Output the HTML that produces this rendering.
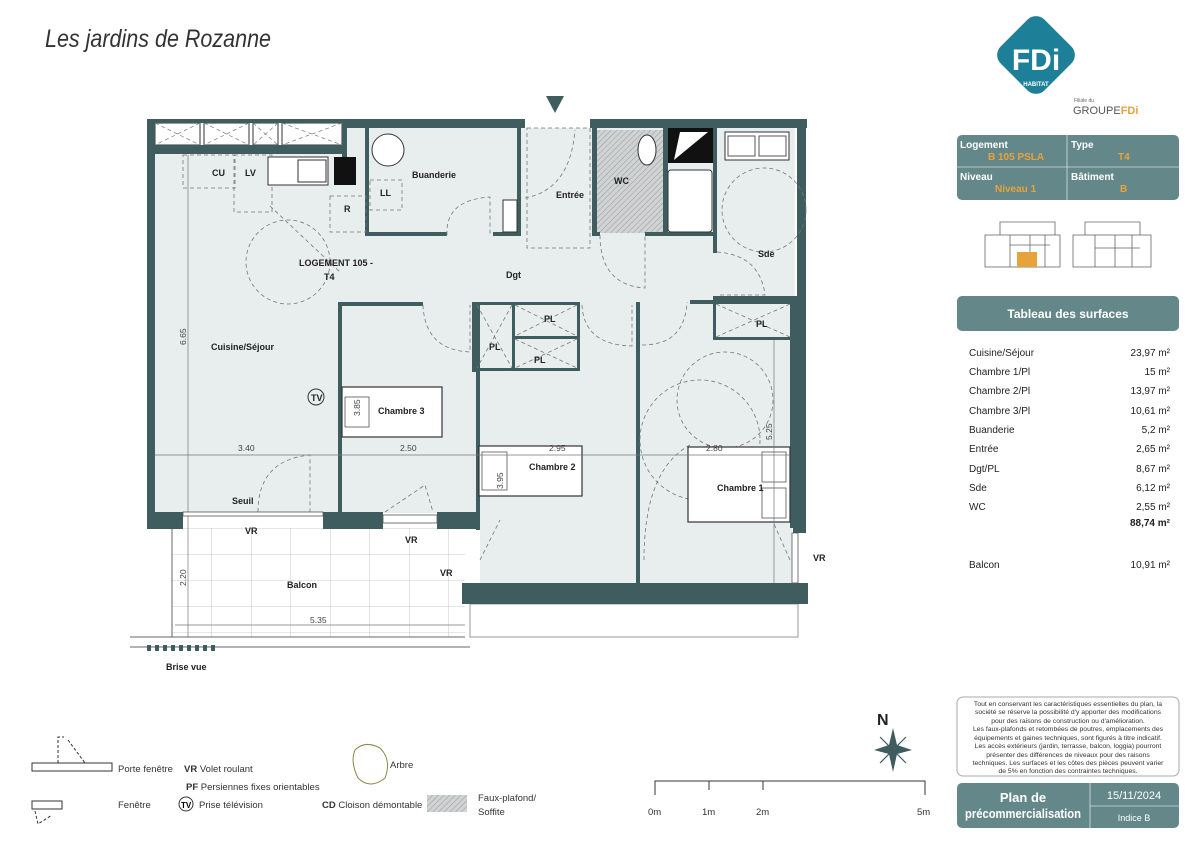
<!DOCTYPE html>
<html><head><meta charset="utf-8"><style>
html,body{margin:0;padding:0;background:#fff;}
svg{display:block;}
text{font-family:"Liberation Sans",sans-serif;}
.b{font-weight:bold;font-size:9px;fill:#222;}
.d{font-size:8.5px;fill:#444;}
.w{fill:#3f5d5e;}
</style></head><body>
<svg width="1199" height="848" viewBox="0 0 1199 848" xmlns="http://www.w3.org/2000/svg">
<defs>
<pattern id="h" width="4" height="4" patternUnits="userSpaceOnUse" patternTransform="rotate(45)"><rect width="4" height="4" fill="#cfd3d3"/><line x1="0" y1="0" x2="0" y2="4" stroke="#999" stroke-width="1"/></pattern>
<pattern id="tile" x="172" y="528" width="39.5" height="26" patternUnits="userSpaceOnUse"><rect width="39.5" height="26" fill="#fff"/><path d="M0 0H39.5M0 0V26" stroke="#bbb" stroke-width="0.8" fill="none"/></pattern>
</defs>
<text x="45" y="47" font-style="italic" font-size="25" fill="#333" textLength="226" lengthAdjust="spacingAndGlyphs">Les jardins de Rozanne</text>

<!-- floors -->
<rect x="155" y="153" width="640" height="360" fill="#e8eded"/>
<rect x="345" y="128" width="450" height="30" fill="#e8eded"/>
<rect x="480" y="300" width="312" height="285" fill="#e8eded"/>
<rect x="597" y="130" width="66" height="103" fill="url(#h)"/>
<!-- balcony -->
<rect x="172" y="528" width="293" height="109" fill="url(#tile)"/>
<rect x="470" y="604" width="328" height="33" fill="#fff" stroke="#999" stroke-width="1"/>
<line x1="172" y1="528" x2="172" y2="637" stroke="#666"/>
<line x1="130" y1="637" x2="465" y2="637" stroke="#666"/>
<line x1="130" y1="647" x2="470" y2="647" stroke="#666"/>
<g fill="#3f5d5e"><rect x="147" y="645" width="4" height="6"/><rect x="155" y="645" width="4" height="6"/><rect x="163" y="645" width="4" height="6"/><rect x="171" y="645" width="4" height="6"/><rect x="179" y="645" width="4" height="6"/><rect x="187" y="645" width="4" height="6"/><rect x="195" y="645" width="4" height="6"/><rect x="203" y="645" width="4" height="6"/><rect x="211" y="645" width="4" height="6"/></g>

<!-- cabinets top -->
<g fill="#fff" stroke="#333" stroke-width="1">
<rect x="155" y="123" width="45" height="22"/><rect x="204" y="123" width="45" height="22"/><rect x="253" y="123" width="25" height="22"/><rect x="282" y="123" width="60" height="22"/></g>
<g stroke="#888" stroke-dasharray="4 3" stroke-width="0.8"><path d="M155 123L200 145M200 123L155 145M204 123L249 145M249 123L204 145M253 123L278 145M278 123L253 145M282 123L342 145M342 123L282 145"/></g>

<!-- walls -->
<g class="w">
<rect x="147" y="119" width="200" height="4"/>
<rect x="147" y="145" width="200" height="9"/>
<rect x="147" y="119" width="8" height="410"/>
<rect x="342" y="119" width="5" height="40"/>
<rect x="342" y="119" width="183" height="9"/>
<rect x="590" y="119" width="217" height="9"/>
<rect x="365" y="128" width="4" height="108"/>
<rect x="365" y="232" width="82" height="4"/>
<rect x="493" y="232" width="28" height="4"/>
<rect x="517" y="128" width="4" height="108"/>
<rect x="592" y="128" width="5" height="108"/>
<rect x="592" y="232" width="8" height="4"/>
<rect x="645" y="232" width="72" height="4"/>
<rect x="663" y="128" width="5" height="106"/>
<rect x="713" y="128" width="4" height="125"/>
<rect x="713" y="296" width="84" height="4"/>
<rect x="797" y="119" width="9" height="410"/>
<rect x="790" y="300" width="16" height="228"/>
<rect x="147" y="512" width="36" height="17"/>
<rect x="323" y="512" width="60" height="17"/>
<rect x="437" y="512" width="43" height="17"/>
<rect x="338" y="302" width="4" height="212"/>
<rect x="338" y="302" width="85" height="4"/>
<rect x="476" y="302" width="4" height="228"/>
<rect x="472" y="302" width="5" height="70"/>
<rect x="472" y="302" width="108" height="3"/>
<rect x="512" y="302" width="3" height="68"/>
<rect x="472" y="368" width="108" height="3"/>
<rect x="512" y="336" width="68" height="3"/>
<rect x="577" y="302" width="3" height="68"/>
<rect x="636" y="302" width="4" height="282"/>
<rect x="690" y="300" width="100" height="4"/>
<rect x="713" y="300" width="3" height="40"/>
<rect x="713" y="337" width="77" height="3"/>
<rect x="462" y="583" width="346" height="21"/>
<rect x="793" y="528" width="13" height="5"/>
</g>
<rect x="668" y="128" width="45" height="35" fill="#111"/>
<path d="M674 160L680 132L708 132" fill="#fff"/>
<rect x="334" y="157" width="22" height="28" fill="#111"/>
<!-- PL crosses -->
<g stroke="#777" stroke-dasharray="4 3" stroke-width="0.8" fill="none">
<path d="M515 305L577 336M577 305L515 336M515 339L577 368M577 339L515 368M477 305L512 368M512 305L477 368M716 304L790 337M790 304L716 337"/>
<circle cx="288" cy="262" r="42"/><path d="M270 206L340 272"/>
<circle cx="725" cy="400" r="48"/><circle cx="700" cy="440" r="60"/>
<circle cx="764" cy="210" r="42"/>
<rect x="183" y="155" width="52" height="33"/><rect x="234" y="155" width="38" height="57"/>
<rect x="330" y="196" width="36" height="36"/><rect x="370" y="180" width="32" height="30"/>
<rect x="527" y="128" width="63" height="120"/>
<path d="M525 198Q570 190 575 130M600 235Q600 285 645 288L645 235M717 252Q760 255 765 295L717 295M447 235Q445 200 490 197L490 235M423 305Q425 350 470 352L470 305M582 305Q584 345 632 346L632 305M642 345Q685 345 687 302M258 512Q258 460 310 455L310 512M385 512L425 485L433 512M644 560Q644 470 690 445"/>
<path d="M480 560L500 520M790 560L770 515"/>
</g>
<!-- fixtures -->
<circle cx="388" cy="150" r="16" fill="#fff" stroke="#333"/>
<rect x="268" y="157" width="60" height="28" fill="#fff" stroke="#333"/>
<rect x="298" y="160" width="28" height="22" fill="#fff" stroke="#333"/>
<rect x="725" y="132" width="64" height="28" fill="#fff" stroke="#333"/>
<rect x="728" y="136" width="27" height="20" fill="#fff" stroke="#555"/><rect x="759" y="136" width="27" height="20" fill="#fff" stroke="#555"/>
<rect x="668" y="170" width="44" height="62" rx="3" fill="#fff" stroke="#333"/>
<ellipse cx="647" cy="150" rx="9" ry="15" fill="#fff" stroke="#333"/>
<rect x="503" y="200" width="14" height="32" fill="#fff" stroke="#333"/>
<!-- beds -->
<g fill="#fff" stroke="#333" stroke-width="1.2"><rect x="342" y="387" width="100" height="50"/><rect x="479" y="446" width="103" height="50"/><rect x="688" y="447" width="102" height="75"/></g>
<g fill="none" stroke="#555" stroke-width="0.8"><rect x="345" y="397" width="24" height="30"/><rect x="482" y="452" width="25" height="38"/><rect x="762" y="452" width="24" height="30"/><rect x="762" y="488" width="24" height="30"/></g>
<!-- dimension lines -->
<g stroke="#777" stroke-width="0.7"><line x1="155" y1="455" x2="790" y2="455"/><line x1="188" y1="155" x2="188" y2="637"/><line x1="175" y1="625" x2="465" y2="625"/><line x1="774" y1="340" x2="774" y2="583"/></g>
<!-- windows -->
<g fill="#fff" stroke="#555" stroke-width="0.8"><rect x="183" y="512" width="140" height="4"/><rect x="383" y="515" width="54" height="8"/><rect x="792" y="533" width="6" height="50"/></g>
<path d="M546 96L564 96L555 113Z" fill="#3f5d5e"/>

<g class="b">
<text x="212" y="176">CU</text><text x="245" y="176">LV</text><text x="344" y="212">R</text><text x="380" y="196">LL</text>
<text x="412" y="178">Buanderie</text><text x="556" y="198">Entrée</text><text x="614" y="184">WC</text><text x="758" y="257">Sde</text>
<text x="299" y="266">LOGEMENT 105 -</text><text x="324" y="280">T4</text><text x="506" y="278">Dgt</text>
<text x="211" y="350">Cuisine/Séjour</text><text x="378" y="414">Chambre 3</text><text x="529" y="470">Chambre 2</text><text x="717" y="491">Chambre 1</text>
<text x="232" y="504">Seuil</text><text x="245" y="534">VR</text><text x="405" y="543">VR</text><text x="440" y="576">VR</text><text x="287" y="588">Balcon</text><text x="813" y="561">VR</text>
<text x="544" y="322">PL</text><text x="534" y="363">PL</text><text x="489" y="350">PL</text><text x="756" y="327">PL</text>
<text x="166" y="670">Brise vue</text>
</g>
<circle cx="316" cy="397" r="8" fill="none" stroke="#333"/><text x="311" y="401" class="b" font-size="8">TV</text>
<g class="d"><text x="238" y="451">3.40</text><text x="400" y="451">2.50</text><text x="549" y="451">2.95</text><text x="706" y="451">2.80</text><text x="310" y="623">5.35</text>
<text transform="translate(186 345) rotate(-90)">6.65</text><text transform="translate(186 586) rotate(-90)">2.20</text><text transform="translate(772 440) rotate(-90)">5.25</text><text transform="translate(360 416) rotate(-90)">3.85</text><text transform="translate(503 489) rotate(-90)">3.95</text></g>

<!-- logo -->
<rect x="1005" y="24" width="62" height="62" rx="12" transform="rotate(45 1036 55)" fill="#1e7f99"/>
<text x="1036" y="70" text-anchor="middle" font-weight="bold" font-size="30" fill="#fff">FDi</text>
<text x="1036" y="86" text-anchor="middle" font-weight="bold" font-size="6" fill="#fff">HABITAT</text>
<text x="1074" y="102" font-size="5" fill="#666">Filiale du</text>
<text x="1073" y="114" font-size="11" fill="#555">GROUPE<tspan fill="#e8a23c" font-weight="bold">FDi</tspan></text>

<!-- info box -->
<rect x="957" y="135" width="222" height="65" rx="5" fill="#64888a"/>
<line x1="1067" y1="135" x2="1067" y2="200" stroke="#fff" stroke-width="0.6"/><line x1="957" y1="167" x2="1179" y2="167" stroke="#fff" stroke-width="0.6"/>
<g font-weight="bold" font-size="10"><text x="960" y="148" fill="#fff">Logement</text><text x="988" y="160" fill="#e8a23c">B 105 PSLA</text><text x="1071" y="148" fill="#fff">Type</text><text x="1118" y="160" fill="#e8a23c">T4</text>
<text x="960" y="180" fill="#fff">Niveau</text><text x="995" y="192" fill="#e8a23c">Niveau 1</text><text x="1071" y="180" fill="#fff">Bâtiment</text><text x="1120" y="192" fill="#e8a23c">B</text></g>
<!-- mini plans -->
<g fill="none" stroke="#666" stroke-width="0.8"><rect x="985" y="235" width="75" height="32"/><rect x="1073" y="235" width="78" height="32"/><path d="M1000 235V222H1055V235M1085 235V222H1140V235M1010 245H1050M1095 248H1140M1010 235V267M1030 235V267M1045 235V267M1095 235V267M1115 235V267M1132 235V267"/></g>
<rect x="1017" y="252" width="20" height="15" fill="#e8a23c"/>
<rect x="957" y="296" width="222" height="35" rx="5" fill="#64888a"/>
<text x="1068" y="318" text-anchor="middle" font-weight="bold" font-size="12" fill="#fff">Tableau des surfaces</text>
<g font-size="10" fill="#222">
<text x="969" y="356">Cuisine/Séjour</text><text x="1170" y="356" text-anchor="end">23,97 m²</text>
<text x="969" y="375">Chambre 1/Pl</text><text x="1170" y="375" text-anchor="end">15 m²</text>
<text x="969" y="394">Chambre 2/Pl</text><text x="1170" y="394" text-anchor="end">13,97 m²</text>
<text x="969" y="414">Chambre 3/Pl</text><text x="1170" y="414" text-anchor="end">10,61 m²</text>
<text x="969" y="433">Buanderie</text><text x="1170" y="433" text-anchor="end">5,2 m²</text>
<text x="969" y="452">Entrée</text><text x="1170" y="452" text-anchor="end">2,65 m²</text>
<text x="969" y="472">Dgt/PL</text><text x="1170" y="472" text-anchor="end">8,67 m²</text>
<text x="969" y="491">Sde</text><text x="1170" y="491" text-anchor="end">6,12 m²</text>
<text x="969" y="510">WC</text><text x="1170" y="510" text-anchor="end">2,55 m²</text>
<text x="1170" y="526" text-anchor="end" font-weight="bold">88,74 m²</text>
<text x="969" y="568">Balcon</text><text x="1170" y="568" text-anchor="end">10,91 m²</text></g>

<rect x="957" y="697" width="222" height="79" rx="6" fill="#fff" stroke="#aaa"/>
<g font-size="6.8" fill="#333" text-anchor="middle"><text x="1068" y="706">Tout en conservant les caractéristiques essentielles du plan, la</text><text x="1068" y="714">société se réserve la possibilité d'y apporter des modifications</text><text x="1068" y="723">pour des raisons de construction ou d'amélioration.</text><text x="1068" y="731">Les faux-plafonds et retombées de poutres, emplacements des</text><text x="1068" y="740">équipements et gaines techniques, sont figurés à titre indicatif.</text><text x="1068" y="748">Les accès extérieurs (jardin, terrasse, balcon, loggia) pourront</text><text x="1068" y="757">présenter des différences de niveaux pour des raisons</text><text x="1068" y="765">techniques. Les surfaces et les côtes des pièces peuvent varier</text><text x="1068" y="773">de 5% en fonction des contraintes techniques.</text></g>
<rect x="957" y="783" width="222" height="45" rx="5" fill="#64888a"/>
<line x1="1090" y1="783" x2="1090" y2="828" stroke="#fff" stroke-width="0.6"/><line x1="1090" y1="806" x2="1179" y2="806" stroke="#fff" stroke-width="0.6"/>
<g fill="#fff" text-anchor="middle"><text x="1023" y="802" font-weight="bold" font-size="13">Plan de</text><text x="1023" y="818" font-weight="bold" font-size="13" textLength="116" lengthAdjust="spacingAndGlyphs">précommercialisation</text><text x="1134" y="799" font-size="11">15/11/2024</text><text x="1134" y="821" font-size="9">Indice B</text></g>

<!-- legend -->
<rect x="32" y="763" width="80" height="8" fill="#fff" stroke="#333"/>
<path d="M58 763V737H64M68 740L85 763" fill="none" stroke="#333" stroke-dasharray="3 2"/>
<rect x="32" y="801" width="30" height="8" fill="#fff" stroke="#333"/>
<path d="M35 811L38 824L52 815" fill="none" stroke="#333" stroke-dasharray="3 2"/>
<g font-size="9.5" fill="#333"><text x="118" y="772">Porte fenêtre</text><text x="118" y="808">Fenêtre</text>
<text x="184" y="772"><tspan font-weight="bold">VR</tspan> Volet roulant</text><text x="186" y="790"><tspan font-weight="bold">PF</tspan> Persiennes fixes orientables</text><text x="199" y="808">Prise télévision</text>
<text x="390" y="768">Arbre</text><text x="322" y="808"><tspan font-weight="bold">CD</tspan> Cloison démontable</text><text x="478" y="801">Faux-plafond/</text><text x="478" y="815">Soffite</text>
<text x="648" y="815">0m</text><text x="702" y="815">1m</text><text x="756" y="815">2m</text><text x="917" y="815">5m</text></g>
<circle cx="186" cy="804" r="7" fill="none" stroke="#333"/><text x="181" y="808" font-size="8" font-weight="bold">TV</text>
<path d="M355 750Q365 740 380 748Q392 760 385 778Q370 790 358 778Q350 762 355 750Z" fill="none" stroke="#8a8a4a"/>
<rect x="427" y="795" width="40" height="17" fill="url(#h)"/>
<path d="M655 795V781H925V795M709 781V790M763 781V790" fill="none" stroke="#333"/>
<!-- north -->
<text x="877" y="725" font-weight="bold" font-size="16" fill="#222">N</text>
<path d="M893 728L897 745L912 750L897 754L893 772L889 754L874 750L889 745Z" fill="#3f5d5e"/>
<path d="M880 737L893 750L906 737L893 750L906 763L893 750L880 763" stroke="#3f5d5e" stroke-width="1.2" fill="none"/>
</svg>
</body></html>
